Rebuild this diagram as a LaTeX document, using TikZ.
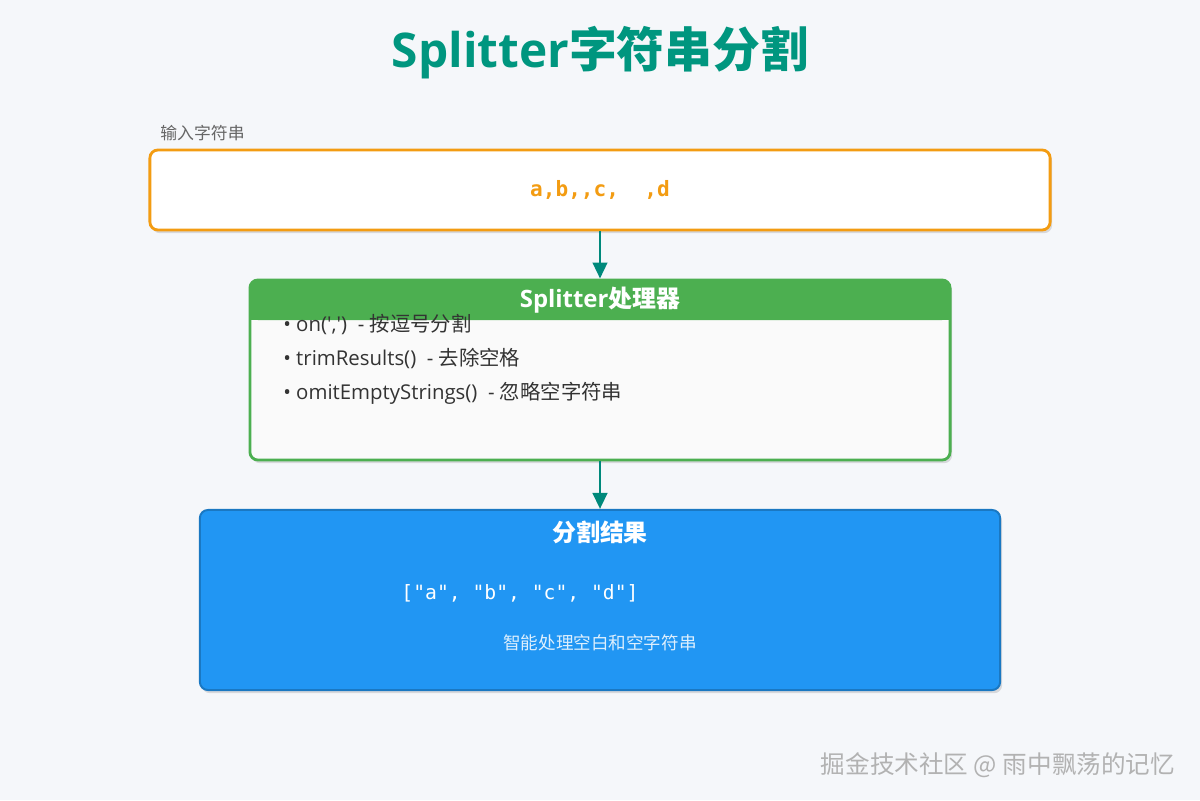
\documentclass[tikz,border=0pt]{standalone}
\usepackage{fontspec}
\setmainfont{Open Sans}
\newfontfamily\cjk{Noto Sans CJK SC}
\newfontfamily\latin{Open Sans}
\newfontfamily\mono{DejaVu Sans Mono}
\usetikzlibrary{arrows.meta,shadows}
\definecolor{titleteal}{HTML}{00967F}
\definecolor{arrowteal}{HTML}{00897B}
\definecolor{inorange}{HTML}{F39C12}
\definecolor{procgreen}{HTML}{4CAF50}
\definecolor{procbody}{HTML}{FAFAFA}
\definecolor{resblue}{HTML}{2196F3}
\definecolor{resborder}{HTML}{1A78C2}
\definecolor{pagebg}{HTML}{F5F7FA}
\definecolor{labelgray}{HTML}{666666}
\definecolor{itemtext}{HTML}{333333}
\begin{document}
\begin{tikzpicture}[
        x=0.025cm, y=-0.025cm,
        font=\latin
    ]
    \tikzset{
        boxshadow/.style = {drop shadow={shadow xshift=0.05cm, shadow yshift=-0.08cm, opacity=0.12, fill=black}},
        inbox/.style = {rectangle, rounded corners=0.2cm, draw=inorange, line width=2pt, fill=white, minimum width=22.5cm, minimum height=2cm, boxshadow},
        procbox/.style = {rectangle, rounded corners=0.2cm, draw=procgreen, line width=2pt, fill=procbody, minimum width=17.5cm, minimum height=4.5cm, boxshadow},
        prochead/.style = {rectangle, rounded corners=0.2cm, fill=procgreen, minimum width=17.5cm, minimum height=1cm},
        resbox/.style = {rectangle, rounded corners=0.2cm, draw=resborder, line width=1.4pt, fill=resblue, minimum width=20cm, minimum height=4.5cm, boxshadow},
        itemline/.style = {anchor=west, inner sep=0pt, text=itemtext, font=\latin\fontsize{14.5}{17}\selectfont},
        headtext/.style = {text=white, font=\latin\bfseries\fontsize{17}{20}\selectfont},
        flow/.style = {draw=arrowteal, line width=2.1pt, -{Triangle[length=0.4cm, width=0.36cm]}},
    }
    \fill[pagebg] (0,0) rectangle (1200,800);
    \node[text=titleteal, font=\latin\bfseries\fontsize{34}{40}\selectfont] (title) at (600,53) {Splitter{\cjk 字符串分割}};
    \node[anchor=west, inner sep=0pt, text=labelgray, font=\cjk\fontsize{12}{14}\selectfont] (inlabel) at (160,133) {输入字符串};
    \node[inbox, text=inorange, font=\mono\bfseries\fontsize{15}{18}\selectfont] (input) at (600,190) {a,b,,c,\ \ ,d};
    \node[procbox] (proc) at (600,370) {};
    \node[prochead] (head) at (600,300) {};
    \fill[procgreen] (head.west) rectangle (head.south east);
    \node[headtext] (proctitle) at (head) {Splitter{\cjk 处理器}};
    \node[itemline] (item1) at (283,324) {• on(',')~~- {\cjk 按逗号分割}};
    \node[itemline] (item2) at (283,358) {• trimResults()~~- {\cjk 去除空格}};
    \node[itemline] (item3) at (283,393) {• omitEmptyStrings()~~- {\cjk 忽略空字符串}};
    \node[resbox] (result) at (600,600) {};
    \node[headtext, font=\cjk\bfseries\fontsize{17}{20}\selectfont] (restitle) at (600,532) {分割结果};
    \node[text=white, font=\mono\fontsize{14}{17}\selectfont] (resarray) at (520,593) {["a", "b", "c", "d"]};
    \node[text=white, opacity=0.85, font=\cjk\fontsize{12.5}{15}\selectfont] (resnote) at (600,643) {智能处理空白和空字符串};
    \draw[flow] (input.south) -- (proc.north);
    \draw[flow] (proc.south) -- (result.north);
    \node[anchor=east, text=gray!60, font=\cjk\fontsize{17.5}{20}\selectfont] (mark) at (1180,765) {掘金技术社区 @ 雨中飘荡的记忆};
\end{tikzpicture}
\end{document}
